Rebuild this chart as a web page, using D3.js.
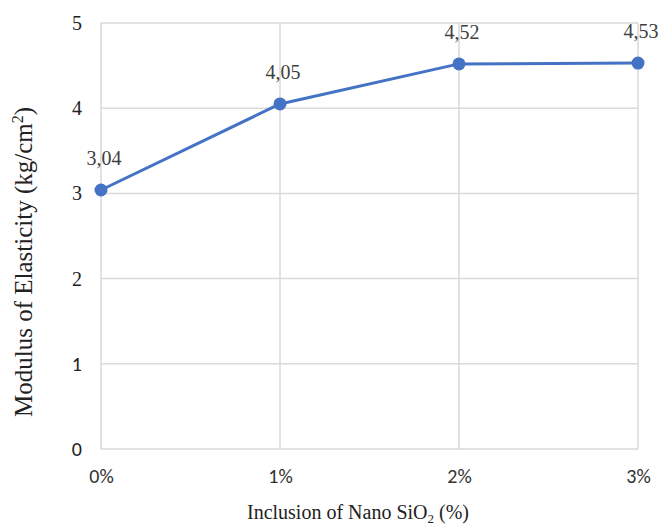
<!DOCTYPE html>
<html>
<head>
<meta charset="utf-8">
<script src="https://cdn.jsdelivr.net/npm/d3@7"></script>
<style>
  html, body { margin: 0; padding: 0; background: #fff; }
  svg { display: block; }
</style>
</head>
<body>
<svg id="chart" width="659" height="525"></svg>
<script>
// Modulus of elasticity against nano SiO2 content
const categories = ["0%", "1%", "2%", "3%"];
const modulus = [3.04, 4.05, 4.52, 4.53];
const pointLabels = ["3,04", "4,05", "4,52", "4,53"];
const yTicks = [0, 1, 2, 3, 4, 5];

const svg = d3.select("#chart");
const plotLeft = 101, plotRight = 638, plotTop = 23, plotBottom = 449;

const x = d3.scalePoint().domain(categories).range([plotLeft, plotRight]).padding(0);
const y = d3.scaleLinear().domain([0, 5]).range([plotBottom, plotTop]);

const serif = "'Liberation Serif', 'Times New Roman', serif";
const sans = "Carlito, 'Liberation Sans', Arial, sans-serif";

// horizontal gridlines
svg.append("g")
  .selectAll("line")
  .data(yTicks)
  .join("line")
  .attr("x1", plotLeft).attr("x2", plotRight)
  .attr("y1", d => y(d)).attr("y2", d => y(d))
  .attr("stroke", "#d9d9d9").attr("stroke-width", 1.5);

// vertical gridlines at each category
svg.append("g")
  .selectAll("line")
  .data(categories)
  .join("line")
  .attr("x1", d => x(d)).attr("x2", d => x(d))
  .attr("y1", plotTop).attr("y2", plotBottom)
  .attr("stroke", "#d9d9d9").attr("stroke-width", 1.5);

// y axis tick labels
const yAxis = d3.axisLeft(y).tickValues(yTicks).tickSize(0).tickPadding(19).tickFormat(d3.format("d"));
const gy = svg.append("g").attr("transform", `translate(${plotLeft},0)`).call(yAxis);
gy.select(".domain").remove();
gy.selectAll("text")
  .attr("font-family", d => d >= 2 ? serif : sans)
  .attr("font-size", 20)
  .attr("fill", "#222");

// x axis tick labels
const xAxis = d3.axisBottom(x).tickSize(0).tickPadding(20);
const gx = svg.append("g").attr("transform", `translate(0,${plotBottom})`).call(xAxis);
gx.select(".domain").remove();
gx.selectAll("text")
  .attr("font-family", sans)
  .attr("font-size", 20)
  .attr("fill", "#333");

// series line
const line = d3.line()
  .x((d, i) => x(categories[i]))
  .y(d => y(d));

svg.append("path")
  .datum(modulus)
  .attr("d", line)
  .attr("fill", "none")
  .attr("stroke", "#4472c4")
  .attr("stroke-width", 3)
  .attr("stroke-linejoin", "round");

svg.append("g")
  .selectAll("circle")
  .data(modulus)
  .join("circle")
  .attr("cx", (d, i) => x(categories[i]))
  .attr("cy", d => y(d))
  .attr("r", 6.5)
  .attr("fill", "#4472c4");

// value labels
svg.append("g")
  .selectAll("text")
  .data(modulus)
  .join("text")
  .attr("x", (d, i) => x(categories[i]) + 3)
  .attr("y", d => y(d) - 25)
  .attr("text-anchor", "middle")
  .attr("font-family", serif)
  .attr("font-size", 20)
  .attr("fill", "#404040")
  .text((d, i) => pointLabels[i]);

// axis titles
const xTitle = svg.append("text")
  .attr("x", 358).attr("y", 519)
  .attr("text-anchor", "middle")
  .attr("font-family", serif)
  .attr("font-size", 20)
  .attr("fill", "#222");
xTitle.append("tspan").text("Inclusion of Nano SiO");
xTitle.append("tspan").attr("font-size", 13).attr("dy", 4).text("2");
xTitle.append("tspan").attr("dy", -4).text(" (%)");

const yTitle = svg.append("text")
  .attr("transform", "translate(32,262) rotate(-90)")
  .attr("text-anchor", "middle")
  .attr("font-family", serif)
  .attr("font-size", 25)
  .attr("fill", "#222");
yTitle.append("tspan").text("Modulus of Elasticity (kg/cm");
yTitle.append("tspan").attr("font-size", 16).attr("dy", -9).text("2");
yTitle.append("tspan").attr("dy", 9).text(")");
</script>
</body>
</html>
